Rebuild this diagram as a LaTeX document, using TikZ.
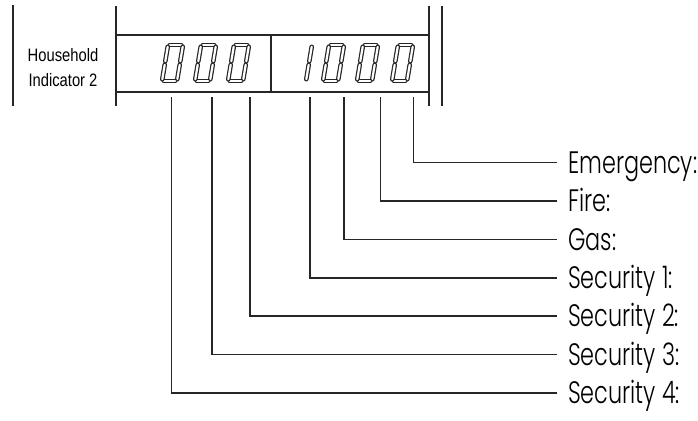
\documentclass[tikz,border=0pt]{standalone}
\usepackage{fontspec}
\newfontfamily\panelfont[FakeStretch=0.82]{Liberation Sans}
\newfontfamily\flagfont[FakeStretch=0.72]{Poppins Light}
\usepackage{tikz}
\usetikzlibrary{positioning}

\tikzset{
  rule/.style={line width=1.2pt, draw=black!85},
  lead/.style={line width=1.1pt, draw=black!85},
  segment/.style={double, double distance=2.2pt, line width=1.2pt, line cap=round,
    draw=black!85, shorten <=1.8pt, shorten >=1.8pt},
  flaglabel/.style={anchor=west, inner xsep=11pt, inner ysep=0pt, text height=21pt,
    text depth=0pt, font=\flagfont\fontsize{31}{33}\selectfont},
  pics/zerodigit/.style={code={
    \draw[segment] (8,-37) -- (23,-37);
    \draw[segment] (23,-37) -- (20,-19);
    \draw[segment] (20,-19) -- (17,-1);
    \draw[segment] (17,-1) -- (2,-1);
    \draw[segment] (2,-1) -- (5,-19);
    \draw[segment] (5,-19) -- (8,-37);
  }},
  pics/onedigit/.style={code={
    \draw[segment] (23,-37) -- (20,-19);
    \draw[segment] (20,-19) -- (17,-1);
  }},
}

\begin{document}
\begin{tikzpicture}[x=1pt, y=-1pt]
			\useasboundingbox (0,0) rectangle (698,420);

			% Panel frame
			\draw[rule] (13,5) -- (13,106);
			\draw[rule] (442,6) -- (442,106);
			\draw[rule] (116,6) -- (116,106);
			\draw[rule] (429,6) -- (429,106);
			\draw[rule] (116,35) -- (429,35);
			\draw[rule] (116,92) -- (429,92);
			\draw[rule] (271,35) -- (271,92);

			\node[align=center, font=\panelfont\fontsize{18}{25}\selectfont] (hhcap) at (63,68) {Household\\Indicator 2};

			% Display digits
			\pic at (160,82) {zerodigit};
			\pic at (193,82) {zerodigit};
			\pic at (226,82) {zerodigit};
			\pic at (289,82) {onedigit};
			\pic at (321,82) {zerodigit};
			\pic at (355,82) {zerodigit};
			\pic at (390,82) {zerodigit};

			% Tick points under the display
			\coordinate (tk4) at (171.5,97);
			\coordinate (tk3) at (212,97);
			\coordinate (tk2) at (250,97);
			\coordinate (tk1) at (310,97);
			\coordinate (tkgas) at (344,97);
			\coordinate (tkfire) at (380.5,97);
			\coordinate (tkemg) at (413.5,97);

			% Labels
			\node[flaglabel] (emg) at (557,162.5) {Emergency:};
			\node[flaglabel] (fire) at (557,201) {Fire:};
			\node[flaglabel] (gas) at (557,239.5) {Gas:};
			\node[flaglabel] (sec1) at (557,278) {Security 1:};
			\node[flaglabel] (sec2) at (557,316) {Security 2:};
			\node[flaglabel] (sec3) at (557,354.5) {Security 3:};
			\node[flaglabel] (sec4) at (557,393) {Security 4:};

			% Leader lines
			\draw[lead] (tkemg) |- (emg.west);
			\draw[lead] (tkfire) |- (fire.west);
			\draw[lead] (tkgas) |- (gas.west);
			\draw[lead] (tk1) |- (sec1.west);
			\draw[lead] (tk2) |- (sec2.west);
			\draw[lead] (tk3) |- (sec3.west);
			\draw[lead] (tk4) |- (sec4.west);
\end{tikzpicture}
\end{document}
